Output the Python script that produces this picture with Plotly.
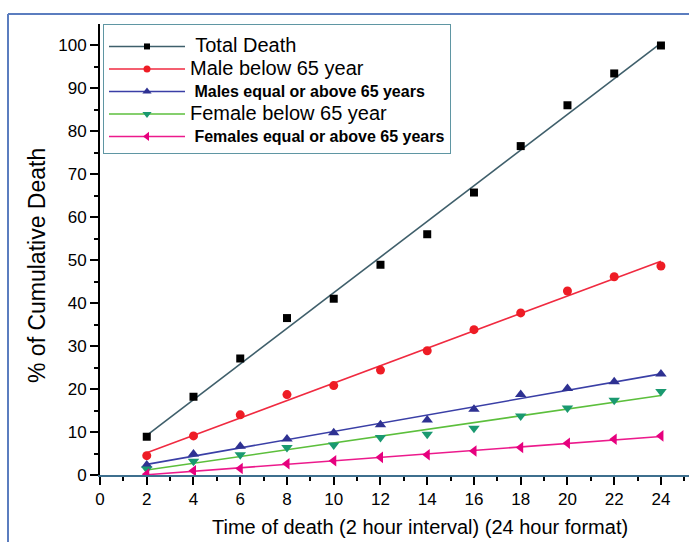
import numpy as np
import plotly.graph_objects as go

hours = [2, 4, 6, 8, 10, 12, 14, 16, 18, 20, 22, 24]
total_death = [8.9, 18.2, 27.1, 36.5, 41.0, 48.9, 56.0, 65.7, 76.5, 86.0, 93.4, 99.9]
male_below_65 = [4.5, 9.1, 14.0, 18.7, 20.8, 24.4, 28.9, 33.8, 37.7, 42.8, 46.1, 48.6]
male_above_65 = [2.3, 4.9, 6.7, 8.4, 9.8, 11.7, 12.8, 15.3, 18.7, 20.1, 21.7, 23.5]
female_below_65 = [1.4, 3.2, 4.7, 6.4, 7.0, 8.7, 9.5, 10.9, 13.7, 15.6, 17.4, 19.4]
female_above_65 = [0.2, 1.0, 1.5, 2.6, 3.3, 4.1, 4.7, 5.6, 6.4, 7.4, 8.3, 9.1]

x_ticks = list(range(0, 25, 2))
y_ticks = list(range(0, 101, 10))

names = [
    "<span style='font-size:20px'> Total Death</span>",
    "<span style='font-size:20px'>Male below 65 year</span>",
    "<b><span style='font-size:16px'> Males equal or above 65 years</span></b>",
    "<span style='font-size:20px'>Female below 65 year</span>",
    "<b><span style='font-size:16px'> Females equal or above 65 years</span></b>",
]
values = [total_death, male_below_65, male_above_65, female_below_65, female_above_65]
symbols = ["square", "circle", "triangle-up", "triangle-down", "triangle-left"]
sizes = [8, 9, 10, 10, 10]
marker_colors = ["#000000", "#ee1c25", "#2e3192", "#1a9970", "#e6007e"]
line_colors = ["#3f5f6b", "#f02a40", "#3a3fa6", "#5cbf3c", "#ec1a8c"]

fig = go.Figure()
xs = np.array(hours, dtype=float)
for name, vals, sym, size, mcol, lcol in zip(names, values, symbols, sizes,
                                              marker_colors, line_colors):
    ys = np.array(vals, dtype=float)
    slope, icpt = np.polyfit(xs, ys, 1)
    fx = np.array([xs.min(), xs.max()])
    fig.add_trace(go.Scatter(x=fx, y=slope * fx + icpt, mode="lines",
                             line=dict(color=lcol, width=1.6), showlegend=False,
                             hoverinfo="skip"))
    fig.add_trace(go.Scatter(x=hours, y=vals, mode="markers",
                             marker=dict(symbol=sym, size=size, color=mcol),
                             showlegend=False))
    fig.add_trace(go.Scatter(x=[None], y=[None], mode="lines+markers", name=name,
                             marker=dict(symbol=sym, size=size - 2, color=mcol),
                             line=dict(color=lcol, width=1.4)))

font_family = "Liberation Sans, Arial, sans-serif"
L, T, B = 100, 24, 67
W, H = 689, 542
pw, ph = W - L, H - T - B

def px_x(p):
    return (p - L) / pw

def px_y(p):
    return (H - B - p) / ph

fig.update_layout(
    width=W, height=H,
    margin=dict(l=L, r=0, t=T, b=B),
    paper_bgcolor="white", plot_bgcolor="white",
    font=dict(family=font_family, color="black"),
    showlegend=True,
    legend=dict(x=px_x(103), y=1, xanchor="left", yanchor="top",
                bordercolor="#5f96a3", borderwidth=1, bgcolor="white",
                font=dict(size=15, family=font_family, color="black"),
                title=dict(text=" ", font=dict(size=4)),
                itemwidth=76, tracegroupgap=0),
    xaxis=dict(range=[0, 25.2], tickvals=x_ticks, ticktext=[str(v) for v in x_ticks],
               showgrid=False, zeroline=False, showline=True, linecolor="#3d6f8e",
               linewidth=2, ticks="outside", ticklen=8, tickwidth=2, tickcolor="black",
               tickfont=dict(size=17),
               minor=dict(dtick=1, tick0=0, ticks="outside", ticklen=4, tickwidth=2,
                          tickcolor="black")),
    yaxis=dict(range=[0, 104.9], tickvals=y_ticks, ticktext=[str(v) for v in y_ticks],
               showgrid=False, zeroline=False, showline=True, linecolor="black",
               linewidth=2, ticks="outside", ticklen=8, tickwidth=2, tickcolor="black",
               tickfont=dict(size=17),
               minor=dict(dtick=5, tick0=0, ticks="outside", ticklen=4, tickwidth=2,
                          tickcolor="black")),
    annotations=[
        dict(text="Time of death (2 hour interval) (24 hour format)", xref="paper",
             yref="paper", x=px_x(420), y=px_y(527), xanchor="center", yanchor="middle",
             showarrow=False, font=dict(size=20, family=font_family, color="black")),
        dict(text="% of Cumulative Death", xref="paper", yref="paper",
             x=px_x(37), y=px_y(266), xanchor="center", yanchor="middle",
             textangle=-90, showarrow=False,
             font=dict(size=23, family=font_family, color="black")),
    ],
    shapes=[
        dict(type="line", xref="paper", yref="paper", x0=px_x(8), x1=px_x(700),
             y0=px_y(14), y1=px_y(14), line=dict(color="#5b7dbf", width=2)),
        dict(type="line", xref="paper", yref="paper", x0=px_x(8), x1=px_x(8),
             y0=px_y(14), y1=px_y(560), line=dict(color="#5b7dbf", width=2)),
    ],
)

fig.write_html("out.html")
